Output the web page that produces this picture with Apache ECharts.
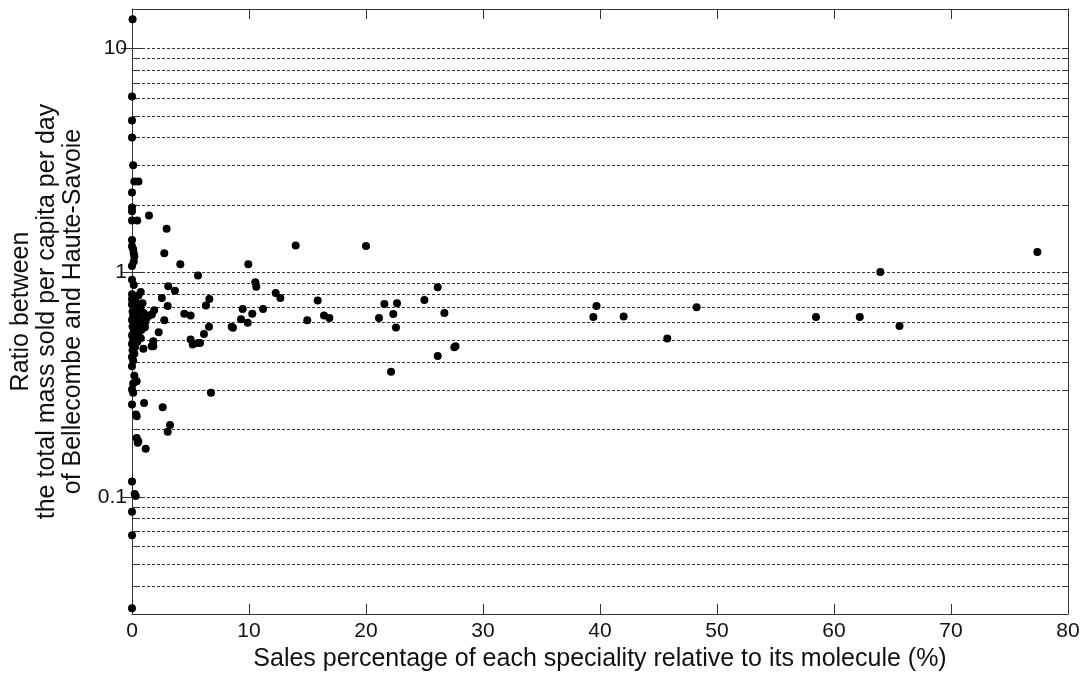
<!DOCTYPE html>
<html>
<head>
<meta charset="utf-8">
<script src="https://cdn.jsdelivr.net/npm/echarts@6/dist/echarts.min.js"></script>
<style>
html,body{margin:0;padding:0;background:#fff;}
#chart{width:1087px;height:673px;}
</style>
</head>
<body>
<div id="chart"></div>
<script>
// Sales percentage of each speciality relative to its molecule (%)
const salesPct = [
  0.05, 0.0, 0.0, 0.0, 0.1, 0.2, 0.55, 0.0, 0.0, 0.0,
  0.0, 0.45, 1.45, 2.96, 0.0, 0.0, 0.1, 0.15, 0.2, 0.15,
  0.0, 2.76, 4.13, 13.99, 9.94, 5.64, 0.0, 0.15, 0.75, 0.0,
  2.55, 0.15, 3.1, 3.67, 10.54, 10.62, 12.28, 12.68, 15.87, 6.61,
  6.32, 9.46, 11.2, 1.9, 3.05, 10.28, 9.32, 9.89, 8.52, 8.63,
  14.98, 16.41, 16.87, 6.58, 6.15, 5.81, 6.75, 20.0, 26.13, 24.99,
  21.57, 22.65, 22.33, 21.11, 22.56, 26.7, 26.13, 27.55, 27.65, 22.14,
  39.7, 39.43, 42.02, 45.75, 48.26, 77.38, 63.96, 58.46, 62.2, 65.6,
  4.47, 5.01, 2.76, 1.48, 1.25, 1.11, 1.7, 2.28, 1.82, 1.68,
  1.82, 0.97, 5.01, 5.19, 5.67, 0.0, 0.2, 0.4, 0.1, 0.0,
  0.1, 0.0, 1.03, 2.62, 0.34, 0.4, 3.25, 3.05, 0.4, 0.54,
  0.49, 1.17, 0.0, 0.23, 0.32, 0.0, 0.0, 0.0,
  0.0, 0.3, 0.55, 0.0, 0.2, 0.6, 0.9, 0.05, 0.35, 0.75,
  1.0, 0.1, 0.5, 0.85, 0.0, 0.25, 0.6, 0.05, 0.4, 0.8,
  1.1, 0.15, 0.55, 0.0, 0.3, 0.75, 0.1, 0.45, 0.0, 0.25,
  0.05, 0.2, 0.0, 0.1
];
// Ratio between the total mass sold per capita per day of Bellecombe and Haute-Savoie
const massRatio = [
  13.5, 6.1, 4.77, 4.01, 3.01, 2.55, 2.55, 2.28, 1.95, 1.88,
  1.71, 1.71, 1.80, 1.57, 1.40, 1.31, 1.27, 1.22, 1.18, 1.12,
  1.07, 1.22, 1.09, 1.32, 1.09, 0.97, 0.93, 0.88, 0.82, 0.80,
  0.77, 0.745, 0.87, 0.83, 0.905, 0.864, 0.812, 0.77, 0.752, 0.763,
  0.713, 0.689, 0.689, 0.68, 0.71, 0.656, 0.619, 0.597, 0.574, 0.567,
  0.613, 0.643, 0.628, 0.573, 0.533, 0.486, 0.291, 1.315, 0.86, 0.755,
  0.725, 0.73, 0.654, 0.628, 0.569, 0.661, 0.425, 0.465, 0.47, 0.361,
  0.71, 0.634, 0.638, 0.508, 0.70, 1.237, 1.007, 0.634, 0.634, 0.578,
  0.656, 0.643, 0.613, 0.643, 0.628, 0.597, 0.65, 0.542, 0.494, 0.469,
  0.469, 0.457, 0.503, 0.478, 0.486, 0.382, 0.347, 0.328, 0.32, 0.301,
  0.291, 0.258, 0.262, 0.251, 0.233, 0.229, 0.209, 0.195, 0.183, 0.177,
  0.174, 0.164, 0.117, 0.103, 0.1007, 0.0857, 0.0674, 0.0318,
  0.76, 0.74, 0.79, 0.72, 0.70, 0.71, 0.73, 0.67, 0.66, 0.68,
  0.66, 0.64, 0.63, 0.61, 0.615, 0.60, 0.585, 0.575, 0.565, 0.555,
  0.57, 0.545, 0.535, 0.525, 0.515, 0.51, 0.50, 0.49, 0.48, 0.465,
  0.45, 0.435, 0.42, 0.405
];
const xTickLabels = [0, 10, 20, 30, 40, 50, 60, 70, 80];
const yTickLabels = [0.1, 1, 10];
const yGridValues = [0.04, 0.05, 0.06, 0.07, 0.08, 0.09, 0.1, 0.2, 0.3, 0.4, 0.5, 0.6, 0.7, 0.8, 0.9, 1, 2, 3, 4, 5, 6, 7, 8, 9, 10];

const points = salesPct.map((x, i) => [x, massRatio[i]]);

const FONT = 'Liberation Sans, Arial, sans-serif';
const AX = '#333';

function logAxis(pos, extra) {
  return Object.assign({
    type: 'log', logBase: 10, min: 0.03, max: 15, position: pos,
    axisLine: {show: true, onZero: false, lineStyle: {color: AX, width: 1}},
    axisTick: {show: true, inside: true, length: 5, lineStyle: {color: AX}, customValues: yGridValues},
    axisLabel: {show: false},
    splitLine: {show: false}
  }, extra || {});
}

const chart = echarts.init(document.getElementById('chart'), null, {renderer: 'canvas'});
chart.setOption({
  animation: false,
  backgroundColor: '#fff',
  grid: {left: 132, right: 19, top: 9, bottom: 59, containLabel: false, outerBoundsMode: 'none'},
  xAxis: [
    {
      type: 'value', min: 0, max: 80, interval: 10, position: 'bottom',
      name: 'Sales percentage of each speciality relative to its molecule (%)',
      nameLocation: 'middle', nameGap: 31,
      nameTextStyle: {fontFamily: FONT, fontSize: 25, color: '#111'},
      axisLine: {show: true, onZero: false, lineStyle: {color: AX, width: 1}},
      axisTick: {show: true, inside: true, length: 10, lineStyle: {color: AX}},
      axisLabel: {show: true, fontFamily: FONT, fontSize: 21, color: '#111', margin: 7,
        customValues: xTickLabels},
      splitLine: {show: false}
    },
    {
      type: 'value', min: 0, max: 80, interval: 10, position: 'top',
      axisLine: {show: true, onZero: false, lineStyle: {color: AX, width: 1}},
      axisTick: {show: true, inside: true, length: 10, lineStyle: {color: AX}},
      axisLabel: {show: false},
      splitLine: {show: false}
    }
  ],
  yAxis: [
    logAxis('left', {
      name: 'Ratio between\nthe total mass sold per capita per day\nof Bellecombe and Haute-Savoie',
      nameLocation: 'middle', nameGap: 46, nameRotate: 90,
      nameTextStyle: {fontFamily: FONT, fontSize: 25, color: '#111', lineHeight: 26, align: 'center'},
      axisLabel: {show: true, fontFamily: FONT, fontSize: 21, color: '#111', margin: 5,
        customValues: yTickLabels, formatter: v => String(+v.toPrecision(3))},
      splitLine: {show: true, lineStyle: {color: '#333', width: 1, type: [3, 2]}}
    }),
    logAxis('right'),
    logAxis('left', {
      axisLine: {show: false},
      axisTick: {show: true, inside: true, length: 11, lineStyle: {color: AX}, customValues: yTickLabels}
    }),
    logAxis('right', {
      axisLine: {show: false},
      axisTick: {show: true, inside: true, length: 11, lineStyle: {color: AX}, customValues: yTickLabels}
    })
  ],
  series: [{
    type: 'scatter',
    xAxisIndex: 0, yAxisIndex: 0,
    data: points,
    symbol: 'circle', symbolSize: 8,
    itemStyle: {color: '#000', opacity: 1},
    silent: true
  }]
});
</script>
</body>
</html>
